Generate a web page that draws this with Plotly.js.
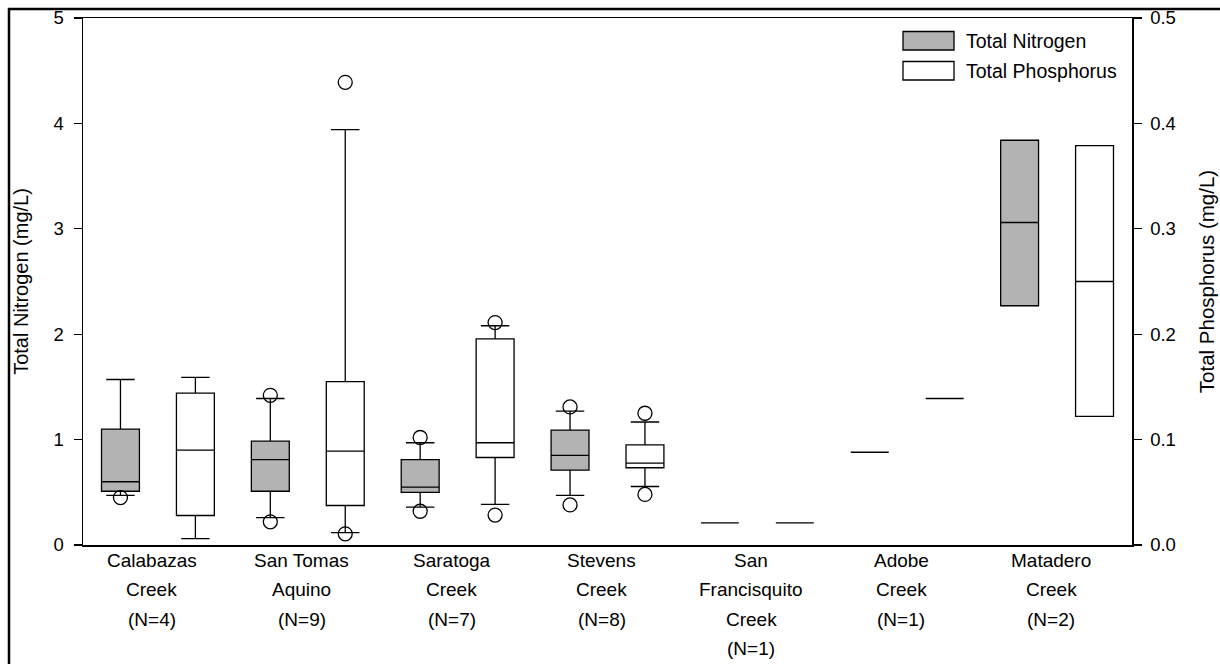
<!DOCTYPE html>
<html>
<head>
<meta charset="utf-8">
<script src="https://cdn.plot.ly/plotly-3.0.1.min.js"></script>
<style>
  html, body { margin: 0; padding: 0; background: #fff; }
  #chart { width: 1220px; height: 664px; }
</style>
</head>
<body>
<div id="chart"></div>
<script>
// ---- Data ----
const sites = [
  'Calabazas<br>Creek<br>(N=4)',
  'San Tomas<br>Aquino<br>(N=9)',
  'Saratoga<br>Creek<br>(N=7)',
  'Stevens<br>Creek<br>(N=8)',
  'San<br>Francisquito<br>Creek<br>(N=1)',
  'Adobe<br>Creek<br>(N=1)',
  'Matadero<br>Creek<br>(N=2)'
];

// Total Nitrogen (mg/L)
const tnLower  = [0.47, 0.26, 0.36, 0.47, 0.21, 0.88, 2.27];
const tnQ1     = [0.51, 0.51, 0.50, 0.71, 0.21, 0.88, 2.27];
const tnMedian = [0.60, 0.81, 0.55, 0.85, 0.21, 0.88, 3.06];
const tnQ3     = [1.10, 0.985, 0.81, 1.09, 0.21, 0.88, 3.84];
const tnUpper  = [1.57, 1.39, 0.97, 1.27, 0.21, 0.88, 3.84];
const tnOutSite  = [0, 1, 1, 2, 2, 3, 3];
const tnOutValue = [0.45, 0.22, 1.42, 0.32, 1.02, 0.38, 1.31];

// Total Phosphorus (mg/L)
const tpLower  = [0.006, 0.0117, 0.0386, 0.0555, 0.021, 0.139, 0.122];
const tpQ1     = [0.028, 0.0375, 0.083, 0.0733, 0.021, 0.139, 0.122];
const tpMedian = [0.090, 0.089, 0.097, 0.0777, 0.021, 0.139, 0.250];
const tpQ3     = [0.144, 0.155, 0.1955, 0.095, 0.021, 0.139, 0.379];
const tpUpper  = [0.159, 0.394, 0.208, 0.1167, 0.021, 0.139, 0.379];
const tpOutSite  = [1, 1, 2, 2, 3, 3];
const tpOutValue = [0.0106, 0.439, 0.0284, 0.211, 0.048, 0.125];

// ---- Layout helpers ----
const FONT = "'Liberation Sans', Arial, sans-serif";
const groupPos = sites.map((_, i) => i + 1);
const OFFSET = 0.25;
const BOXW = 0.253;
const tnPos = groupPos.map(p => p - OFFSET);
const tpPos = groupPos.map(p => p + OFFSET);
const labelPos = groupPos.map(p => p - 0.04);

const boxStyle = {
  type: 'box',
  width: BOXW,
  whiskerwidth: 0.75,
  boxpoints: false,
  hoverinfo: 'skip',
  showlegend: false
};

const traces = [
  Object.assign({}, boxStyle, {
    name: 'Total Nitrogen',
    x: tnPos, q1: tnQ1, median: tnMedian, q3: tnQ3,
    lowerfence: tnLower, upperfence: tnUpper,
    fillcolor: '#b3b3b3',
    line: { color: '#000', width: 1.3 },
    yaxis: 'y'
  }),
  Object.assign({}, boxStyle, {
    name: 'Total Phosphorus',
    x: tpPos, q1: tpQ1, median: tpMedian, q3: tpQ3,
    lowerfence: tpLower, upperfence: tpUpper,
    fillcolor: '#ffffff',
    line: { color: '#000', width: 1.3 },
    yaxis: 'y2'
  }),
  {
    type: 'scatter', mode: 'markers',
    x: tnOutSite.map(i => tnPos[i]), y: tnOutValue,
    marker: { symbol: 'circle-open', size: 14, color: '#000', line: { width: 1.3 } },
    showlegend: false, hoverinfo: 'skip', yaxis: 'y'
  },
  {
    type: 'scatter', mode: 'markers',
    x: tpOutSite.map(i => tpPos[i]), y: tpOutValue,
    marker: { symbol: 'circle-open', size: 14, color: '#000', line: { width: 1.3 } },
    showlegend: false, hoverinfo: 'skip', yaxis: 'y2'
  }
];

// plot area in pixels: left 83, right 1132, top 18, bottom 545
const L = 83, R = 1132, T = 18, B = 545;
const px = x => (x - L) / (R - L);
const py = y => (B - y) / (B - T);

// category labels below the x axis, one text line each (line pitch as in the reference)
const labelAnnotations = [];
sites.forEach((s, i) => {
  s.split('<br>').forEach((line, j) => {
    labelAnnotations.push({
      xref: 'x', yref: 'paper', x: labelPos[i], y: py(560 + 29.5 * j),
      xanchor: 'center', yanchor: 'middle', showarrow: false,
      text: line, font: { size: 19, family: FONT, color: '#000' }
    });
  });
});

const layout = {
  width: 1220, height: 664,
  margin: { l: L, r: 1220 - R, t: T, b: 664 - B, pad: 0 },
  paper_bgcolor: '#fff', plot_bgcolor: '#fff',
  font: { family: FONT, color: '#000', size: 18 },
  showlegend: false,
  xaxis: {
    range: [0.5, 7.5],
    showticklabels: false,
    ticks: '', showgrid: false, zeroline: false,
    showline: true, linecolor: '#000', linewidth: 1.5, mirror: true,
    fixedrange: true
  },
  yaxis: {
    range: [0, 5], dtick: 1, tick0: 0,
    ticks: 'outside', ticklen: 8, tickwidth: 1.3, tickcolor: '#000',
    showgrid: false, zeroline: false,
    showline: true, linecolor: '#000', linewidth: 1.5,
    tickfont: { size: 18.5, family: FONT },
    ticklabelstandoff: 6,
    title: { text: 'Total Nitrogen (mg/L)', font: { size: 20, family: FONT }, standoff: 19 },
    fixedrange: true
  },
  yaxis2: {
    overlaying: 'y', side: 'right',
    range: [0, 0.5], dtick: 0.1, tick0: 0, tickformat: '.1f',
    ticks: 'outside', ticklen: 8, tickwidth: 1.3, tickcolor: '#000',
    showgrid: false, zeroline: false,
    showline: true, linecolor: '#000', linewidth: 1.5,
    tickfont: { size: 18.5, family: FONT },
    ticklabelstandoff: 5,
    title: { text: 'Total Phosphorus (mg/L)', font: { size: 20.5, family: FONT }, standoff: 24 },
    fixedrange: true
  },
  shapes: [
    // outer frame (left and top edges)
    { type: 'path', xref: 'paper', yref: 'paper',
      path: `M ${px(9)} ${py(664)} L ${px(9)} ${py(9)} L ${px(1220)} ${py(9)}`,
      line: { color: '#000', width: 2.5 } },
    // legend swatches
    { type: 'rect', xref: 'paper', yref: 'paper',
      x0: px(903), x1: px(954), y0: py(50), y1: py(31.5),
      fillcolor: '#b3b3b3', line: { color: '#000', width: 1.3 } },
    { type: 'rect', xref: 'paper', yref: 'paper',
      x0: px(903), x1: px(954), y0: py(80), y1: py(61.5),
      fillcolor: '#ffffff', line: { color: '#000', width: 1.3 } }
  ],
  annotations: [
    { xref: 'paper', yref: 'paper', x: px(964), y: py(41), xanchor: 'left', yanchor: 'middle',
      text: 'Total Nitrogen', showarrow: false, font: { size: 19.5, family: FONT } },
    { xref: 'paper', yref: 'paper', x: px(964), y: py(71), xanchor: 'left', yanchor: 'middle',
      text: 'Total Phosphorus', showarrow: false, font: { size: 19.5, family: FONT } }
  ].concat(labelAnnotations)
};

Plotly.newPlot('chart', traces, layout, { displayModeBar: false, staticPlot: true });
</script>
</body>
</html>
